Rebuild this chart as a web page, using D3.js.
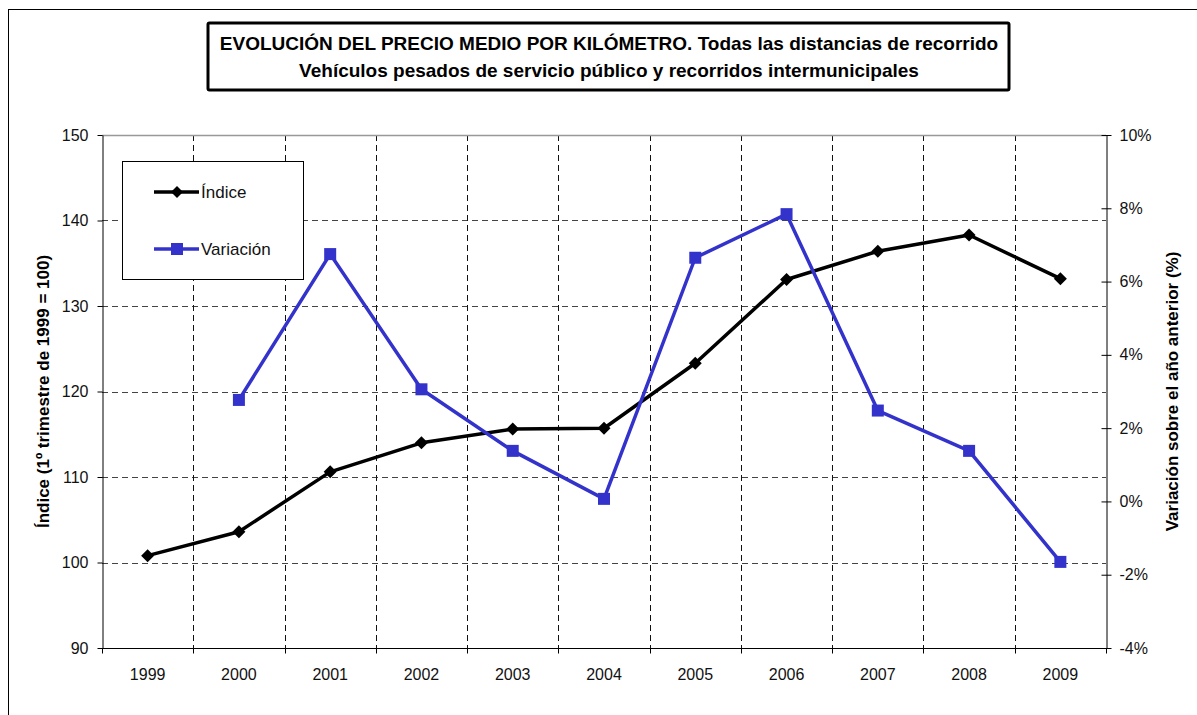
<!DOCTYPE html>
<html lang="es">

<head>
    <meta charset="utf-8">
    <title>Evolución del precio medio por kilómetro</title>
    <script src="https://d3js.org/d3.v7.min.js"></script>
    <style>
        body {
            margin: 0;
            background: white;
        }

        text {
            font-family: "Liberation Sans", Arial, sans-serif;
        }
    </style>
</head>

<body>
    <div id="chart"></div>

    <script>
        // data
        const years = ['1999', '2000', '2001', '2002', '2003', '2004', '2005', '2006', '2007', '2008', '2009'];
        const indice = [100.8, 103.6, 110.6, 114.0, 115.6, 115.7, 123.3, 133.1, 136.4, 138.3, 133.2];
        const variacion = [null, 2.77, 6.75, 3.06, 1.38, 0.07, 6.65, 7.84, 2.48, 1.38, -1.65];
        const leftTicks = [90, 100, 110, 120, 130, 140, 150];
        const rightTicks = [-4, -2, 0, 2, 4, 6, 8, 10];

        const titleLines = [
            'EVOLUCIÓN DEL PRECIO MEDIO POR KILÓMETRO. Todas las distancias de recorrido',
            'Vehículos pesados de servicio público y recorridos intermunicipales'
        ];
        const leftTitle = 'Índice (1º trimestre de 1999 = 100)';
        const rightTitle = 'Variación sobre el año anterior (%)';

        const svgWidth = 1197, svgHeight = 715;
        const plotLeft = 102, plotRight = 1106, plotTop = 135, plotBottom = 648;
        const blue = '#3333cc';

        const svg = d3.select('#chart')
            .append('svg')
            .attr('width', svgWidth)
            .attr('height', svgHeight);

        // outer frame (runs off the right and bottom edge)
        svg.append('rect')
            .attr('x', 8.5).attr('y', 9.5)
            .attr('width', svgWidth + 20).attr('height', svgHeight + 20)
            .attr('fill', 'white')
            .attr('stroke', 'black')
            .attr('stroke-width', 1);

        // title box
        svg.append('rect')
            .attr('x', 208).attr('y', 23)
            .attr('width', 801).attr('height', 67)
            .attr('fill', 'white')
            .attr('stroke', 'black')
            .attr('stroke-width', 3)
            .attr('rx', 1.5);

        svg.selectAll('.title-line')
            .data(titleLines)
            .join('text')
            .attr('class', 'title-line')
            .attr('x', 609)
            .attr('y', (d, i) => 50 + i * 27)
            .attr('text-anchor', 'middle')
            .attr('font-size', '19px')
            .attr('font-weight', 'bold')
            .text(d => d);

        const x = d3.scaleBand()
            .domain(years)
            .range([plotLeft, plotRight]);

        const yLeft = d3.scaleLinear()
            .domain([90, 150])
            .range([plotBottom, plotTop]);

        const yRight = d3.scaleLinear()
            .domain([-4, 10])
            .range([plotBottom, plotTop]);

        const cx = d => x(d) + x.bandwidth() / 2;

        // grid
        const grid = svg.append('g').attr('id', 'grid');
        grid.selectAll('.hgrid')
            .data(leftTicks.filter(t => t > 90 && t < 150))
            .join('line')
            .attr('class', 'hgrid')
            .attr('x1', plotLeft).attr('x2', plotRight)
            .attr('y1', d => Math.round(yLeft(d)) + 0.5)
            .attr('y2', d => Math.round(yLeft(d)) + 0.5)
            .attr('stroke', '#444')
            .attr('stroke-dasharray', '6,4');

        grid.selectAll('.vgrid')
            .data(years.slice(1))
            .join('line')
            .attr('class', 'vgrid')
            .attr('x1', d => Math.round(x(d)) + 0.5)
            .attr('x2', d => Math.round(x(d)) + 0.5)
            .attr('y1', plotTop).attr('y2', plotBottom)
            .attr('stroke', '#111')
            .attr('stroke-dasharray', '6,4');

        // top edge of the plot area
        svg.append('line')
            .attr('x1', plotLeft).attr('x2', plotRight)
            .attr('y1', plotTop + 0.5).attr('y2', plotTop + 0.5)
            .attr('stroke', '#999')
            .attr('stroke-width', 1.5);

        // left axis
        const leftAxis = svg.append('g')
            .attr('transform', 'translate(' + (plotLeft + 0.5) + ',0)')
            .call(d3.axisLeft(yLeft)
                .tickValues(leftTicks)
                .tickSize(5)
                .tickPadding(9)
                .tickSizeOuter(0));
        leftAxis.selectAll('text')
            .attr('font-size', '16px')
            .attr('fill', '#111');

        // right axis, ticks cross the line
        const rightAxis = svg.append('g')
            .attr('transform', 'translate(' + (plotRight + 0.5) + ',0)')
            .call(d3.axisRight(yRight)
                .tickValues(rightTicks)
                .tickSize(5)
                .tickPadding(8)
                .tickSizeOuter(0)
                .tickFormat(d => d + '%'));
        rightAxis.selectAll('.tick line').attr('x1', -5);
        rightAxis.selectAll('text')
            .attr('font-size', '16px')
            .attr('fill', '#111');

        // bottom axis: ticks on band edges
        const bottomAxis = svg.append('g')
            .attr('transform', 'translate(0,' + (plotBottom + 0.5) + ')');
        bottomAxis.append('line')
            .attr('x1', plotLeft).attr('x2', plotRight + 5)
            .attr('stroke', 'black');
        bottomAxis.selectAll('.xtick')
            .data(years.concat(['end']))
            .join('line')
            .attr('class', 'xtick')
            .attr('x1', d => Math.round(d === 'end' ? plotRight : x(d)) + 0.5)
            .attr('x2', d => Math.round(d === 'end' ? plotRight : x(d)) + 0.5)
            .attr('y1', 0).attr('y2', 5)
            .attr('stroke', 'black');
        bottomAxis.selectAll('.xlabel')
            .data(years)
            .join('text')
            .attr('class', 'xlabel')
            .attr('x', d => cx(d))
            .attr('y', 31)
            .attr('text-anchor', 'middle')
            .attr('font-size', '16px')
            .attr('fill', '#111')
            .text(d => d);

        svg.selectAll('.domain').attr('stroke', 'black');

        // axis titles
        svg.append('text')
            .attr('transform', 'translate(49,' + (plotTop + plotBottom) / 2 + ') rotate(-90)')
            .attr('text-anchor', 'middle')
            .attr('font-size', '17px')
            .attr('font-weight', 'bold')
            .text(leftTitle);

        svg.append('text')
            .attr('transform', 'translate(1178,' + (plotTop + plotBottom) / 2 + ') rotate(-90)')
            .attr('text-anchor', 'middle')
            .attr('font-size', '17px')
            .attr('font-weight', 'bold')
            .text(rightTitle);

        // series
        const indiceData = years.map((y, i) => ({ year: y, value: indice[i] }));
        const variacionData = years.map((y, i) => ({ year: y, value: variacion[i] }))
            .filter(d => d.value !== null);

        svg.append('path')
            .datum(indiceData)
            .attr('fill', 'none')
            .attr('stroke', 'black')
            .attr('stroke-width', 3.5)
            .attr('stroke-linejoin', 'round')
            .attr('d', d3.line()
                .x(d => cx(d.year))
                .y(d => yLeft(d.value)));

        svg.selectAll('.diamond')
            .data(indiceData)
            .join('path')
            .attr('class', 'diamond')
            .attr('transform', d => 'translate(' + cx(d.year) + ',' + yLeft(d.value) + ')')
            .attr('d', 'M0,-6.5L6.5,0L0,6.5L-6.5,0Z')
            .attr('fill', 'black');

        svg.append('path')
            .datum(variacionData)
            .attr('fill', 'none')
            .attr('stroke', blue)
            .attr('stroke-width', 3.5)
            .attr('stroke-linejoin', 'round')
            .attr('d', d3.line()
                .x(d => cx(d.year))
                .y(d => yRight(d.value)));

        svg.selectAll('.square')
            .data(variacionData)
            .join('rect')
            .attr('class', 'square')
            .attr('x', d => cx(d.year) - 6)
            .attr('y', d => yRight(d.value) - 6)
            .attr('width', 12).attr('height', 12)
            .attr('fill', blue);

        // legend
        const legend = svg.append('g').attr('id', 'legend');
        legend.append('rect')
            .attr('x', 122.5).attr('y', 161.5)
            .attr('width', 181).attr('height', 118)
            .attr('fill', 'white')
            .attr('stroke', 'black');

        const legendItems = [
            { name: 'Índice', color: 'black', shape: 'diamond', y: 192 },
            { name: 'Variación', color: blue, shape: 'square', y: 249 }
        ];
        legendItems.forEach(item => {
            legend.append('line')
                .attr('x1', 154).attr('x2', 199)
                .attr('y1', item.y).attr('y2', item.y)
                .attr('stroke', item.color)
                .attr('stroke-width', 3.5);
            if (item.shape === 'diamond') {
                legend.append('path')
                    .attr('transform', 'translate(177,' + item.y + ')')
                    .attr('d', 'M0,-6L6,0L0,6L-6,0Z')
                    .attr('fill', item.color);
            } else {
                legend.append('rect')
                    .attr('x', 171).attr('y', item.y - 6)
                    .attr('width', 12).attr('height', 12)
                    .attr('fill', item.color);
            }
            legend.append('text')
                .attr('x', 201)
                .attr('y', item.y + 6)
                .attr('font-size', '17px')
                .attr('fill', '#111')
                .text(item.name);
        });
    </script>
</body>

</html>
